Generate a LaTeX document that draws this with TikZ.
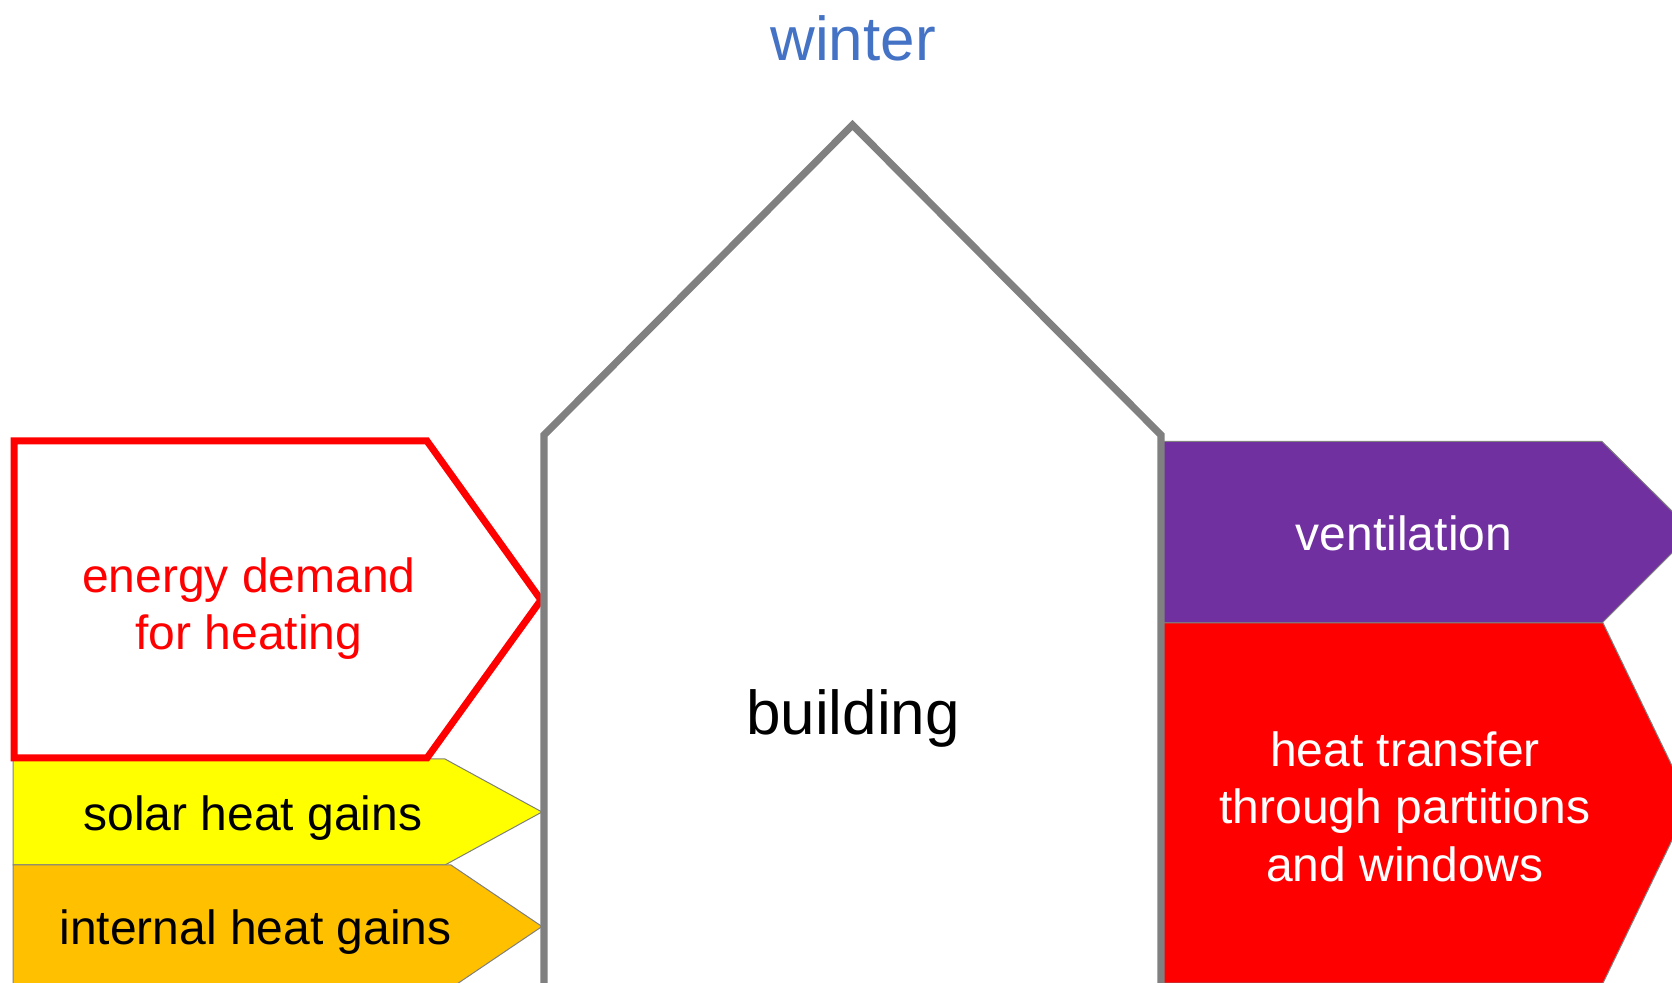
\documentclass[tikz,border=0pt]{standalone}
\usepackage{fontspec}
\setmainfont{Liberation Sans}
\definecolor{wallgray}{HTML}{808080}
\definecolor{vpurple}{HTML}{7030A0}
\definecolor{hred}{HTML}{FF0000}
\definecolor{syellow}{HTML}{FFFF00}
\definecolor{iorange}{HTML}{FFC000}
\definecolor{wblue}{HTML}{4472C4}
\begin{document}
\begin{tikzpicture}[x=0.5pt,y=-0.5pt,
  flow/.style={draw=wallgray,line width=0.5pt,line join=miter},
  lbl/.style={font=\fontsize{24}{28.8}\selectfont,align=center,inner sep=0pt},
  big/.style={font=\fontsize{31}{37}\selectfont,inner sep=0pt}]
\useasboundingbox (0,0) rectangle (1672,983);
% flows
\fill[flow,fill=vpurple] (1163,441.5) -- (1602,441.5) -- (1693,532) -- (1602,623) -- (1163,623) -- cycle;
\fill[flow,fill=hred] (1163,623) -- (1603,623) -- (1690,803) -- (1603,983) -- (1163,983) -- cycle;
\draw[flow,fill=syellow] (13,759) -- (445,759) -- (542,812) -- (445,865) -- (13,865) -- cycle;
\draw[flow,fill=iorange] (13,865) -- (451,865) -- (542,926.5) -- (451,988) -- (13,988) -- cycle;
\draw[draw=hred,line width=3.5pt,line join=miter,fill=white] (14,441) -- (427,441) -- (541,600) -- (427,758) -- (14,758) -- cycle;
% house
\draw[wallgray,line width=3.6pt,line join=miter] (544,995) -- (544,435) -- (852.5,125) -- (1161,435) -- (1161,995);
% texts
\node[big,text=wblue,anchor=base] (winter) at (853,61) {winter};
\node[big,anchor=base] (building) at (853,735) {building};
\node[lbl,text=hred] (demand) at (249,608.5) {energy demand\\for heating};
\node[lbl,anchor=base] (solar) at (253,830.5) {solar heat gains};
\node[lbl,anchor=base] (internal) at (255.5,944.5) {internal heat gains};
\node[lbl,text=white,anchor=base] (vent) at (1404,551) {ventilation};
\node[lbl,text=white] (transfer) at (1405,806.5) {heat transfer\\through partitions\\and windows};
\end{tikzpicture}
\end{document}
